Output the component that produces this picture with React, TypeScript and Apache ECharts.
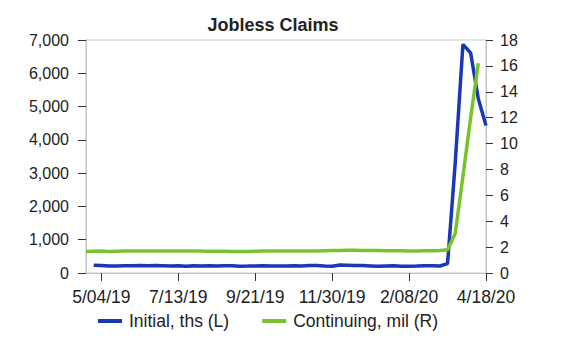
import React, { useEffect, useRef } from "react";
import * as echarts from "echarts";

const weeks: string[] = [
  "4/20/19", "4/27/19", "5/04/19", "5/11/19", "5/18/19", "5/25/19", "6/01/19", "6/08/19", "6/15/19", "6/22/19",
  "6/29/19", "7/06/19", "7/13/19", "7/20/19", "7/27/19", "8/03/19", "8/10/19", "8/17/19", "8/24/19", "8/31/19",
  "9/07/19", "9/14/19", "9/21/19", "9/28/19", "10/05/19", "10/12/19", "10/19/19", "10/26/19", "11/02/19", "11/09/19",
  "11/16/19", "11/23/19", "11/30/19", "12/07/19", "12/14/19", "12/21/19", "12/28/19", "1/04/20", "1/11/20", "1/18/20",
  "1/25/20", "2/01/20", "2/08/20", "2/15/20", "2/22/20", "2/29/20", "3/07/20", "3/14/20", "3/21/20", "3/28/20",
  "4/04/20", "4/11/20", "4/18/20",
];

// Initial claims, thousands (left axis)
const initialClaims: (number | null)[] = [
  null, 230, 228, 212, 211, 215, 218, 222, 216, 227,
  221, 209, 216, 206, 215, 209, 220, 209, 215, 217,
  204, 208, 213, 219, 210, 214, 212, 218, 211, 225,
  227, 213, 203, 240, 232, 222, 222, 214, 204, 211,
  216, 202, 205, 210, 219, 216, 211, 282, 3307, 6867,
  6615, 5237, 4427,
];

// Continuing claims, millions (right axis)
const continuingClaims: (number | null)[] = [
  1.67, 1.68, 1.69, 1.67, 1.68, 1.69, 1.69, 1.70, 1.69, 1.70,
  1.69, 1.70, 1.69, 1.69, 1.70, 1.69, 1.68, 1.68, 1.68, 1.67,
  1.67, 1.67, 1.68, 1.69, 1.69, 1.69, 1.69, 1.69, 1.69, 1.70,
  1.70, 1.72, 1.73, 1.73, 1.75, 1.76, 1.74, 1.74, 1.73, 1.72,
  1.71, 1.71, 1.70, 1.70, 1.71, 1.72, 1.74, 1.80, 3.06, 7.45,
  11.98, 16.2,
];

const seriesNames = ["Initial, ths (L)", "Continuing, mil (R)"];
const titleText = "Jobless Claims";

const FONT = "'Liberation Sans', Arial, Helvetica, sans-serif";
const BLUE = "#1a37b4";
const GREEN = "#7ac22c";
const AXIS = "#c0c4cc";
const TICK = "#333333";
const TEXT = "#222222";

const showTick = (i: number) => i >= 2 && (i - 2) % 10 === 0;

export default function App() {
  const ref = useRef<HTMLDivElement>(null);

  useEffect(() => {
    if (!ref.current) return;
    const chart = echarts.init(ref.current, undefined, { renderer: "svg" });
    chart.setOption({
      animation: false,
      backgroundColor: "#ffffff",
      textStyle: { fontFamily: FONT },
      title: {
        text: titleText,
        left: 273,
        textAlign: "center",
        top: 16,
        padding: 0,
        textStyle: { fontFamily: FONT, fontSize: 18, fontWeight: "bold", color: TEXT },
      },
      legend: {
        data: [
          { name: seriesNames[0], icon: "rect" },
          { name: seriesNames[1], icon: "rect" },
        ],
        left: 98,
        top: 312,
        padding: 0,
        itemGap: 33,
        itemWidth: 24,
        itemHeight: 4,
        textStyle: { fontFamily: FONT, fontSize: 17.5, color: TEXT, padding: [0, 0, 0, 2] },
      },
      grid: {
        left: 86,
        right: 88,
        top: 40,
        bottom: 88,
        show: true,
        borderColor: AXIS,
        borderWidth: 1,
        containLabel: false,
      },
      xAxis: {
        type: "category",
        data: weeks,
        boundaryGap: false,
        axisLine: { lineStyle: { color: AXIS, width: 1 } },
        axisTick: {
          show: true,
          interval: (i: number) => showTick(i),
          length: 8,
          lineStyle: { color: TICK, width: 1 },
        },
        axisLabel: {
          interval: (i: number) => showTick(i),
          fontFamily: FONT,
          fontSize: 17.5,
          color: TEXT,
          margin: 15,
          showMaxLabel: true,
        },
        splitLine: { show: false },
      },
      yAxis: [
        {
          type: "value",
          min: 0,
          max: 7000,
          interval: 1000,
          position: "left",
          axisLine: { show: true, lineStyle: { color: AXIS, width: 1 } },
          axisTick: { show: true, length: 8, lineStyle: { color: TICK, width: 1 } },
          axisLabel: {
            fontFamily: FONT,
            fontSize: 16,
            color: TEXT,
            margin: 17,
            formatter: (v: number) => v.toLocaleString("en-US"),
          },
          splitLine: { show: false },
        },
        {
          type: "value",
          min: 0,
          max: 18,
          interval: 2,
          position: "right",
          alignTicks: false,
          axisLine: { show: true, lineStyle: { color: AXIS, width: 1 } },
          axisTick: { show: true, length: 7, lineStyle: { color: TICK, width: 1 } },
          axisLabel: { fontFamily: FONT, fontSize: 16, color: TEXT, margin: 14 },
          splitLine: { show: false },
        },
      ],
      series: [
        {
          name: seriesNames[0],
          type: "line",
          yAxisIndex: 0,
          data: initialClaims,
          symbol: "none",
          color: BLUE,
          lineStyle: { color: BLUE, width: 3.5 },
        },
        {
          name: seriesNames[1],
          type: "line",
          yAxisIndex: 1,
          data: continuingClaims,
          symbol: "none",
          color: GREEN,
          lineStyle: { color: GREEN, width: 3.5 },
        },
      ],
    });
    return () => chart.dispose();
  }, []);

  return (
    <div
      ref={ref}
      style={{ position: "fixed", left: 0, top: 0, width: 574, height: 361, background: "#fff" }}
    />
  );
}
